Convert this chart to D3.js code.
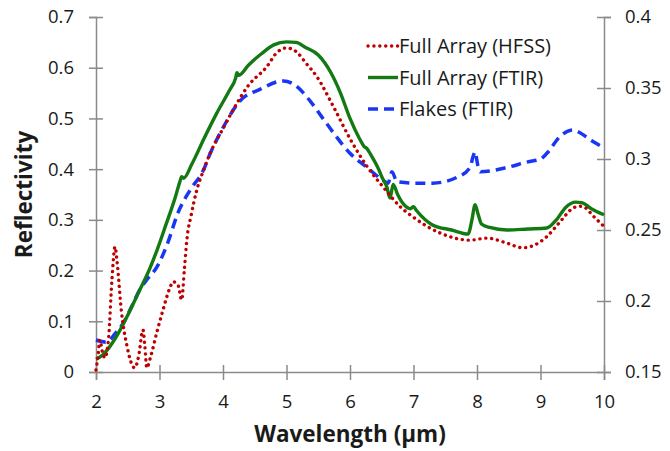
<!DOCTYPE html>
<html>
<head>
<meta charset="utf-8">
<script src="https://cdn.jsdelivr.net/npm/d3@7"></script>
<style>
  body { margin: 0; background: #fff; }
  text { font-family: "Open Sans", "Noto Sans", sans-serif; fill: #1a1a1a; }
</style>
</head>
<body>
<div id="chart"></div>
<script>
// Size constants
var totWidth = 670,
    totHeight = 451;
var margins = {top: 17, right: 66, bottom: 79, left: 96};
var width = totWidth - margins.left - margins.right,
    height = totHeight - margins.top - margins.bottom;

// Data
// Full Array (HFSS) - left axis
var hfssX = [2.0, 2.03, 2.06, 2.1, 2.14, 2.2, 2.25, 2.3, 2.33, 2.4, 2.49, 2.55, 2.61, 2.67, 2.74, 2.77, 2.8, 2.86, 2.96, 3.05, 3.17, 3.21, 3.29, 3.35, 3.39, 3.43, 3.5, 3.59, 3.7, 3.8, 4.0, 4.16, 4.4, 4.69, 4.85, 5.0, 5.15, 5.3, 5.48, 5.74, 6.0, 6.27, 6.52, 6.79, 7.0, 7.42, 7.89, 8.16, 8.45, 8.72, 8.9, 9.1, 9.3, 9.51, 9.6, 9.67, 9.85, 10.0];
var hfssY = [0.004, 0.03, 0.063, 0.04, 0.028, 0.07, 0.18, 0.247, 0.22, 0.12, 0.05, 0.02, 0.008, 0.03, 0.083, 0.05, 0.008, 0.03, 0.079, 0.12, 0.168, 0.178, 0.172, 0.142, 0.2, 0.26, 0.31, 0.36, 0.4, 0.432, 0.48, 0.517, 0.565, 0.602, 0.63, 0.639, 0.632, 0.61, 0.582, 0.523, 0.46, 0.405, 0.365, 0.326, 0.305, 0.274, 0.26, 0.264, 0.255, 0.245, 0.25, 0.267, 0.295, 0.323, 0.327, 0.326, 0.305, 0.287];

// Full Array (FTIR) - left axis
var ftirX = [2.0, 2.1, 2.2, 2.35, 2.5, 2.69, 2.85, 2.96, 3.1, 3.25, 3.32, 3.35, 3.38, 3.51, 3.7, 3.9, 4.1, 4.2, 4.22, 4.25, 4.4, 4.6, 4.8, 5.0, 5.15, 5.3, 5.5, 5.7, 5.85, 6.0, 6.15, 6.22, 6.27, 6.32, 6.45, 6.5, 6.58, 6.63, 6.68, 6.75, 6.85, 6.95, 7.0, 7.05, 7.3, 7.6, 7.86, 7.92, 7.97, 8.02, 8.07, 8.2, 8.47, 8.8, 9.1, 9.25, 9.4, 9.55, 9.65, 9.8, 10.0];
var ftirY = [0.025, 0.033, 0.047, 0.076, 0.112, 0.162, 0.205, 0.24, 0.29, 0.345, 0.375, 0.385, 0.382, 0.41, 0.46, 0.51, 0.555, 0.58, 0.59, 0.585, 0.605, 0.627, 0.645, 0.651, 0.65, 0.64, 0.625, 0.59, 0.55, 0.5, 0.46, 0.445, 0.44, 0.43, 0.4, 0.385, 0.365, 0.343, 0.37, 0.35, 0.33, 0.322, 0.326, 0.318, 0.29, 0.28, 0.272, 0.3, 0.33, 0.31, 0.292, 0.285, 0.28, 0.282, 0.284, 0.3, 0.325, 0.335, 0.334, 0.322, 0.31];

// Flakes (FTIR) - right axis
var flakesX = [2.0, 2.17, 2.3, 2.43, 2.55, 2.69, 2.8, 2.96, 3.13, 3.29, 3.48, 3.69, 3.8, 4.0, 4.27, 4.58, 4.95, 5.1, 5.37, 5.55, 5.73, 6.0, 6.27, 6.52, 6.6, 6.66, 6.74, 7.0, 7.3, 7.68, 7.89, 7.94, 7.97, 8.01, 8.05, 8.47, 8.8, 9.0, 9.1, 9.31, 9.51, 9.6, 9.8, 10.0];
var flakesY = [0.1725, 0.171, 0.177, 0.1845, 0.195, 0.208, 0.215, 0.224, 0.241, 0.262, 0.278, 0.292, 0.304, 0.322, 0.341, 0.349, 0.355, 0.353, 0.341, 0.33, 0.319, 0.304, 0.294, 0.285, 0.283, 0.291, 0.284, 0.283, 0.283, 0.287, 0.294, 0.302, 0.305, 0.296, 0.291, 0.294, 0.298, 0.3, 0.304, 0.316, 0.3205, 0.319, 0.313, 0.308];

// Axis ticks
var xTicks = [2, 3, 4, 5, 6, 7, 8, 9, 10];
var yLeftTicks = [0, 0.1, 0.2, 0.3, 0.4, 0.5, 0.6, 0.7];
var yRightTicks = [0.15, 0.2, 0.25, 0.3, 0.35, 0.4];

var legendLabels = ["Full Array (HFSS)", "Full Array (FTIR)", "Flakes (FTIR)"];

var red = "#c00000", green = "#137a13", blue = "#1a36f5", axisColor = "#8a8a8a";

// append the svg
var svg = d3.select("#chart")
  .append("svg")
    .attr("width", totWidth)
    .attr("height", totHeight)
  .append("g")
    .attr("transform", "translate(" + margins.left + "," + margins.top + ")");

// Scales
var x = d3.scaleLinear().domain([2, 10]).range([0, width]);
var yL = d3.scaleLinear().domain([0, 0.7]).range([height, 0]);
var yR = d3.scaleLinear().domain([0.15, 0.4]).range([height, 0]);

// Axes: ticks cross the axis line
function styleAxis(g) {
  g.select(".domain").attr("stroke", axisColor).attr("stroke-width", 1.5)
  g.selectAll(".tick line").attr("stroke", axisColor).attr("stroke-width", 1.5)
  g.selectAll(".tick text").style("font-size", "18.5px").attr("fill", "#1a1a1a")
}

var xAxis = svg.append("g")
  .attr("transform", "translate(0," + height + ")")
  .call(d3.axisBottom(x).tickValues(xTicks).tickSize(8).tickPadding(15).tickFormat(d3.format("d")))
xAxis.selectAll(".tick line").attr("y1", -7)
styleAxis(xAxis)

var yAxisL = svg.append("g")
  .call(d3.axisLeft(yL).tickValues(yLeftTicks).tickSize(7).tickPadding(15).tickFormat(function(d) { return d === 0 ? "0" : d3.format(".1f")(d); }))
yAxisL.selectAll(".tick line").attr("x1", 7)
styleAxis(yAxisL)

var yAxisR = svg.append("g")
  .attr("transform", "translate(" + width + ",0)")
  .call(d3.axisRight(yR).tickValues(yRightTicks).tickSize(7).tickPadding(14).tickFormat(function(d) { return d3.format("")(+d.toFixed(2)); }))
yAxisR.selectAll(".tick line").attr("x1", -7)
styleAxis(yAxisR)

// Axis titles
svg.append("text")
  .attr("x", width / 2)
  .attr("y", height + 70)
  .attr("text-anchor", "middle")
  .style("font-size", "22.5px")
  .style("font-weight", "bold")
  .text("Wavelength (\u00b5m)")

svg.append("text")
  .attr("transform", "rotate(-90)")
  .attr("x", -height / 2)
  .attr("y", -64)
  .attr("text-anchor", "middle")
  .style("font-size", "22.5px")
  .style("font-weight", "bold")
  .text("Reflectivity")

// Lines
function pts(xs, ys) { return xs.map(function(d, i) { return [d, ys[i]]; }); }

var lineL = d3.line()
  .x(function(d) { return x(d[0]); })
  .y(function(d) { return yL(d[1]); })
  .curve(d3.curveMonotoneX)
var lineR = d3.line()
  .x(function(d) { return x(d[0]); })
  .y(function(d) { return yR(d[1]); })
  .curve(d3.curveMonotoneX)

svg.append("path")
  .datum(pts(flakesX, flakesY))
  .attr("fill", "none")
  .attr("stroke", blue)
  .attr("stroke-width", 3.5)
  .attr("stroke-dasharray", "10,6")
  .attr("d", lineR)

svg.append("path")
  .datum(pts(ftirX, ftirY))
  .attr("fill", "none")
  .attr("stroke", green)
  .attr("stroke-width", 3.4)
  .attr("stroke-linejoin", "round")
  .attr("d", lineL)

svg.append("path")
  .datum(pts(hfssX, hfssY))
  .attr("fill", "none")
  .attr("stroke", red)
  .attr("stroke-width", 3.4)
  .attr("stroke-linecap", "round")
  .attr("stroke-dasharray", "0.1,5.8")
  .attr("d", lineL)

// Legend
var legendStyles = [
  {color: red, dash: "0.1,5.8", cap: "round", w: 3.4},
  {color: green, dash: null, cap: "butt", w: 3.4},
  {color: blue, dash: "10,6", cap: "butt", w: 3.5}
]
var legend = svg.selectAll("legendRow")
  .data(legendLabels)
  .enter()
  .append("g")
    .attr("transform", function(d, i) { return "translate(" + (368 - margins.left) + "," + (46 + i * 31.5 - margins.top) + ")"; })

legend.append("line")
  .attr("x1", 0).attr("x2", 30)
  .attr("stroke", function(d, i) { return legendStyles[i].color; })
  .attr("stroke-width", function(d, i) { return legendStyles[i].w; })
  .attr("stroke-linecap", function(d, i) { return legendStyles[i].cap; })
  .attr("stroke-dasharray", function(d, i) { return legendStyles[i].dash; })

legend.append("text")
  .attr("x", 31)
  .attr("dy", "0.35em")
  .style("font-size", "20px")
  .text(function(d) { return d; })
</script>
</body>
</html>
